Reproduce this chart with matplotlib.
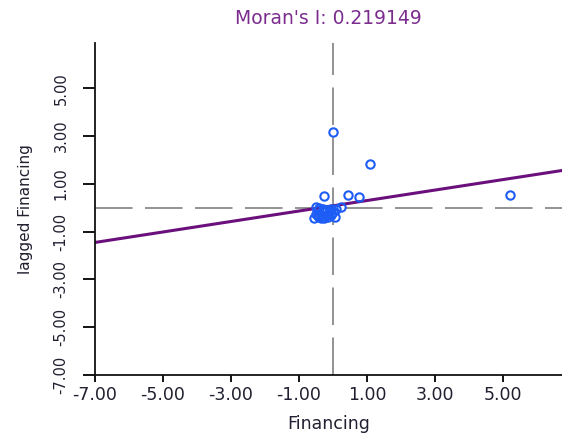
import numpy as np
import matplotlib
matplotlib.use("Agg")
import matplotlib.pyplot as plt

# Moran scatterplot values
moran_i = 0.219149
intercept = 0.08

x_vals = [0.00, 1.09, -0.25, 0.43, 0.76, 5.22, 0.25,
          -0.50, -0.45, -0.50, -0.40, -0.30, -0.30, -0.35, -0.20, -0.20,
          -0.15, -0.10, -0.05, -0.05, 0.00, -0.25, -0.55, -0.40, 0.05, 0.10,
          -0.45, -0.35, -0.15, -0.25]
y_vals = [3.17, 1.82, 0.47, 0.53, 0.45, 0.52, 0.02,
          0.05, -0.10, -0.25, -0.40, -0.05, -0.20, -0.30, -0.10, -0.30,
          -0.40, -0.15, -0.05, -0.30, -0.20, -0.45, -0.45, 0.00, -0.40, -0.05,
          -0.35, -0.45, -0.25, -0.15]

tick_vals = [-7, -5, -3, -1, 1, 3, 5]
tick_labels = ["-7.00", "-5.00", "-3.00", "-1.00", "1.00", "3.00", "5.00"]

plt.rcParams['font.family'] = ['DejaVu Sans']
plt.rcParams['lines.scale_dashes'] = False

fig = plt.figure(figsize=(5.62, 4.33), dpi=100)
ax = fig.add_axes([0.169, 0.134, 0.831, 0.766])

xmin, xmax = -7, 6.74
ymin, ymax = -7, 6.88

# mean lines
ax.axvline(0, color='#7f7f7f', lw=1.2, dashes=(27, 9), zorder=1)
ax.axhline(0, color='#7f7f7f', lw=1.2, dashes=(27, 9), zorder=1)

# regression line
lx = np.array([xmin, xmax])
ax.plot(lx, intercept + moran_i * lx, color='#6a0f7c', lw=2.2, zorder=2)

ax.plot(x_vals, y_vals, 'o', ms=6, mfc='none', mec='#1d5cf5', mew=1.5, zorder=3)

ax.set_xlim(xmin, xmax)
ax.set_ylim(ymin, ymax)

ax.set_xticks(tick_vals)
ax.set_xticklabels(tick_labels, fontsize=12.5, color='#202030')
ax.set_yticks(tick_vals)
ax.set_yticklabels(tick_labels, fontsize=10.5, color='#202030', rotation=90, va='center')

ax.tick_params(axis='x', length=5, width=1.3, pad=3)
ax.tick_params(axis='y', length=9, width=1.3, pad=10)

for s in ['top', 'right']:
    ax.spines[s].set_visible(False)
for s in ['left', 'bottom']:
    ax.spines[s].set_linewidth(1.3)
    ax.spines[s].set_color('#111111')

ax.set_xlabel("Financing", fontsize=12.5, color='#202030', labelpad=8)
ax.set_ylabel("lagged Financing", fontsize=11, color='#202030')
ax.yaxis.set_label_coords(-0.133, 0.5)
ax.set_title("Moran's I: 0.219149", fontsize=13.5, color='#7b2d8e', pad=14)

fig.savefig("out.png", dpi=100)
